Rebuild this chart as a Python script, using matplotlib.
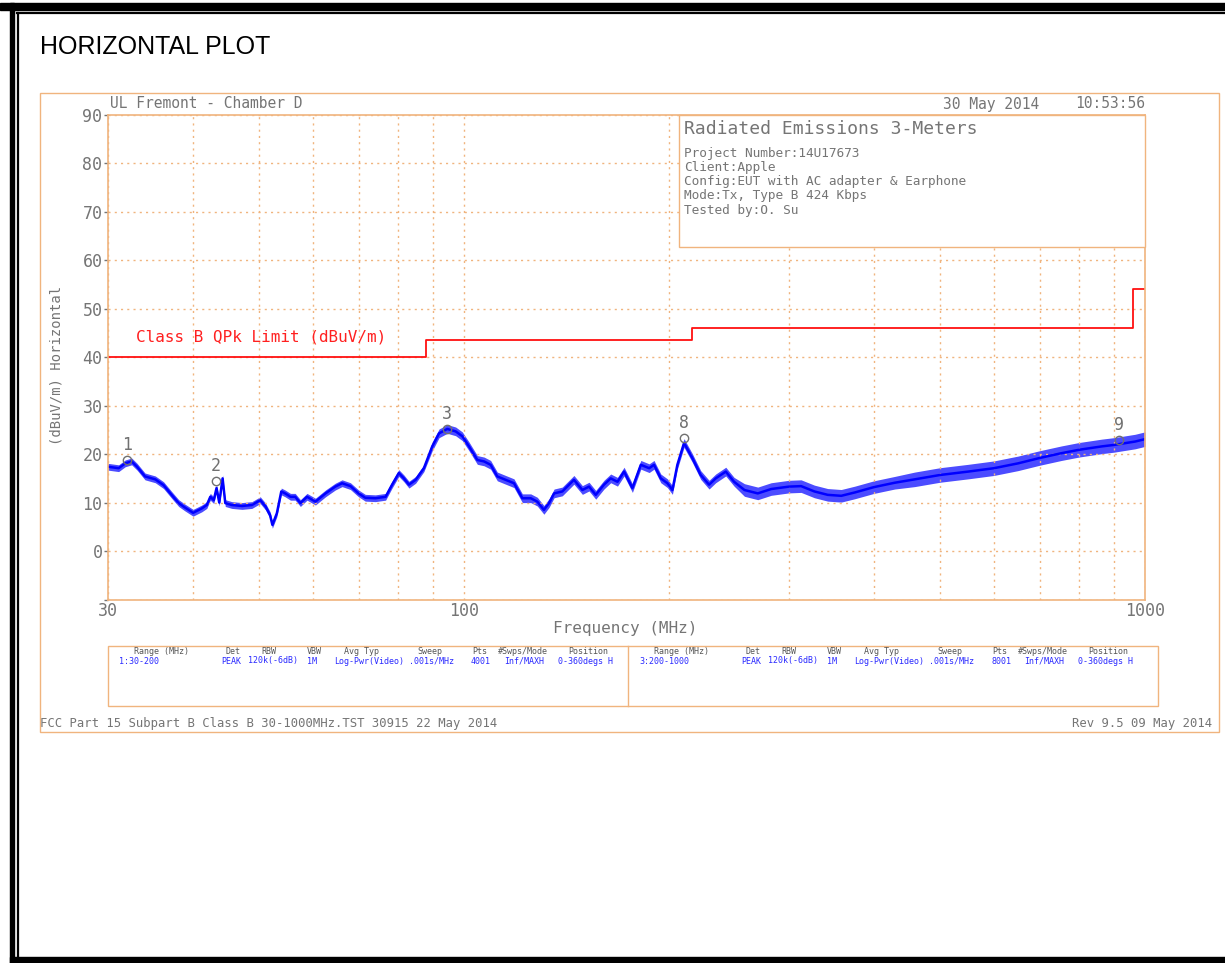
import matplotlib
matplotlib.use('Agg')
import matplotlib.pyplot as plt
from matplotlib.patches import Rectangle
from matplotlib.ticker import FixedLocator, NullFormatter

# measured trace (MHz, dBuV/m)
freq_mhz = [30, 31.1, 31.8, 32.5, 33.1, 34.0, 35.2, 36.2, 37.2, 38.1,
            38.9, 40.0, 41.2, 41.9, 42.4, 42.9, 43.3, 43.7, 44.2, 44.6,
            45.6, 47.2, 48.8, 50.2, 51.1, 51.9, 52.3, 53.1, 53.9, 54.6,
            55.6, 56.5, 57.5, 58.8, 60.5, 62.6, 64.7, 66.2, 68.1, 70.0,
            71.6, 74.1, 76.7, 78.4, 80.2, 81.6, 83.0, 84.9, 87.3,
            89.8, 91.9, 94.5, 97.2, 99.4, 101.7, 104.6, 107.0, 109.4, 111.9,
            115.1, 118.4, 121.8, 125.3, 128.1, 131.0, 133.3, 135.6, 139.4, 145.0,
            149.2, 152.6, 156.1, 160.5, 164.2, 168.0, 171.8, 176.7, 181.8, 187.0,
            190.1, 194.5, 198.9, 202.3, 205.7, 210.4, 216.4, 222.6, 229.0, 234.2,
            242.3, 249.2,
            258.1, 270, 282.5, 300, 312.6, 327, 342, 358, 375, 400,
            429, 459, 500, 550, 600, 651, 700, 754, 800, 864,
            900, 967, 1000]
level_db = [17.4, 17.1, 18.1, 18.5, 17.4, 15.4, 14.8, 13.6, 11.6, 9.9,
            9.0, 7.9, 8.8, 9.5, 11.2, 10.5, 13.0, 10.0, 15.0, 9.9,
            9.5, 9.3, 9.5, 10.5, 9.2, 7.4, 5.4, 7.8, 12.3, 11.9,
            11.2, 11.2, 9.9, 11.2, 10.2, 11.9, 13.3, 14.0, 13.4, 11.9,
            11.0, 10.9, 11.2, 13.7, 16.1, 15.0, 13.7, 14.7, 17.1,
            21.6, 24.3, 25.2, 24.7, 23.7, 21.6, 18.8, 18.5, 17.8, 15.4,
            14.7, 14.0, 10.9, 10.9, 10.2, 8.5, 9.9, 11.9, 12.3, 14.7,
            12.6, 13.3, 11.6, 13.7, 15.0, 14.3, 16.4, 13.0, 17.8, 17.1,
            17.8, 15.0, 14.0, 12.6, 17.8, 22.3, 19.2, 15.7, 13.7, 15.0,
            16.4, 14.3,
            12.6, 11.9, 12.8, 13.3, 13.4, 12.3, 11.6, 11.4, 12.1, 13.2,
            14.1, 14.8, 15.7, 16.4, 17.1, 18.1, 19.2, 20.2, 20.9, 21.6,
            21.9, 22.6, 23.1]
# half height of the noise band around the trace
noise_db = [0.7] * 49 + [0.9] * 42 + [1.3] * 11 + [1.5] * 12

limit_freq = [30, 88, 216, 960, 1000]
limit_db = [40, 43.5, 46, 54, 54]

mark_freq = [32.0, 43.2, 94.3, 210.4, 915.8]
mark_db = [18.8, 14.5, 25.2, 23.3, 22.9]
mark_lbl = ['1', '2', '3', '8', '9']

hdr_cols = ['Range (MHz)', 'Det', 'RBW', 'VBW', 'Avg Typ', 'Sweep', 'Pts', '#Swps/Mode', 'Position']
row1 = ['1:30-200', 'PEAK', '120k(-6dB)', '1M', 'Log-Pwr(Video)', '.001s/MHz', '4001', 'Inf/MAXH', '0-360degs H']
row3 = ['3:200-1000', 'PEAK', '120k(-6dB)', '1M', 'Log-Pwr(Video)', '.001s/MHz', '8001', 'Inf/MAXH', '0-360degs H']

info_lines = ['Project Number:14U17673', 'Client:Apple',
              'Config:EUT with AC adapter & Earphone',
              'Mode:Tx, Type B 424 Kbps', 'Tested by:O. Su']

W, H = 1225, 963
orange = '#f0b47e'
gray = '#757575'
mono = 'DejaVu Sans Mono'

fig = plt.figure(figsize=(W / 100, H / 100), dpi=100)

# background canvas in pixel coordinates
bg = fig.add_axes([0, 0, 1, 1])
bg.set_xlim(0, W)
bg.set_ylim(H, 0)
bg.axis('off')

bg.add_patch(Rectangle((0, 3), W, 7, color='black'))
bg.plot([17, W], [13.5, 13.5], color='black', lw=1.6)
bg.add_patch(Rectangle((10, 3), 3.5, 960, color='black'))
bg.plot([17.5, 17.5], [13, 958], color='black', lw=1.6)
bg.add_patch(Rectangle((10, 957.5), W, 6, color='black'))

bg.text(40, 47, 'HORIZONTAL PLOT', fontsize=18, family='Liberation Sans', va='center')

bg.add_patch(Rectangle((40, 93), 1179, 639, fill=False, ec=orange, lw=1))
bg.add_patch(Rectangle((108, 646), 1050, 60, fill=False, ec=orange, lw=1))
bg.plot([628, 628], [646, 706], color=orange, lw=1)

bg.text(110, 104, 'UL Fremont - Chamber D', family=mono, fontsize=10.5, color=gray, va='center')
bg.text(943, 104, '30 May 2014', family=mono, fontsize=10.5, color=gray, va='center')
bg.text(1145, 104, '10:53:56', family=mono, fontsize=10.5, color=gray, va='center', ha='right')
bg.text(57, 365, '(dBuV/m) Horizontal', family=mono, fontsize=10, color=gray,
        rotation=90, va='center', ha='center')
bg.text(625, 629, 'Frequency (MHz)', family=mono, fontsize=11.5, color=gray, va='center', ha='center')
bg.text(40, 724, 'FCC Part 15 Subpart B Class B 30-1000MHz.TST 30915 22 May 2014',
        family=mono, fontsize=8.8, color=gray, va='center')
bg.text(1212, 724, 'Rev 9.5 09 May 2014', family=mono, fontsize=8.8, color=gray,
        va='center', ha='right')

# setup table
col_off = [26, 117, 153, 199, 236, 309, 364, 390, 460]
val_off = [11, 113, 140, 199, 226, 301, 363, 396, 450]
for left, row in [(108, row1), (628, row3)]:
    for off, s in zip(col_off, hdr_cols):
        bg.text(left + off, 652, s, family=mono, fontsize=6, color='#555555', va='center')
    for off, s in zip(val_off, row):
        bg.text(left + off, 661, s, family=mono, fontsize=6, color='#2a2aff', va='center')

# main plot
ax = fig.add_axes([108 / W, 1 - 599.5 / H, (1145 - 108) / W, (599.5 - 115) / H])
ax.set_xscale('log')
ax.set_xlim(30, 1000)
ax.set_ylim(-10, 90)
ax.set_xticks([30, 100, 1000])
ax.set_xticklabels(['30', '100', '1000'])
ax.xaxis.set_minor_locator(FixedLocator([40, 50, 60, 70, 80, 90, 200, 300, 400, 500, 600, 700, 800, 900]))
ax.xaxis.set_minor_formatter(NullFormatter())
ax.set_yticks(range(0, 100, 10))
ax.yaxis.set_minor_locator(FixedLocator([-10]))
ax.grid(which='both', color=orange, linestyle=(0, (1.5, 3)), lw=1)
for sp in ax.spines.values():
    sp.set_color(orange)
    sp.set_linewidth(1.2)
ax.tick_params(axis='x', which='both', length=0, pad=2, labelsize=12, labelcolor=gray)
ax.tick_params(axis='y', which='both', length=3, width=1, color=gray, pad=1, labelsize=12, labelcolor=gray)
for lab in ax.get_xticklabels() + ax.get_yticklabels():
    lab.set_family(mono)

ax.step(limit_freq, limit_db, where='post', color='#ff1010', lw=1.3)
ax.text(33.0, 44.2, 'Class B QPk Limit (dBuV/m)', family=mono, fontsize=11.5,
        color='#ff2020', va='center')

low = [v - n for v, n in zip(level_db, noise_db)]
high = [v + n for v, n in zip(level_db, noise_db)]
ax.fill_between(freq_mhz, low, high, color='#0000ff', alpha=0.7, lw=0)
ax.plot(freq_mhz, level_db, color='#0000ff', lw=1.8)

ax.plot(mark_freq, mark_db, 'o', mfc='none', mec='#707070', ms=6, mew=1)
for f, v, s in zip(mark_freq, mark_db, mark_lbl):
    ax.annotate(s, (f, v), xytext=(0, 11), textcoords='offset points', ha='center',
                va='center', family=mono, fontsize=12, color='#707070')

# info box
ax.add_patch(Rectangle((679, 115), 466, 132, transform=bg.transData, fc='white',
                       ec=orange, lw=1, clip_on=False, zorder=5))
ax.text(684, 129, 'Radiated Emissions 3-Meters', transform=bg.transData, family=mono,
        fontsize=13, color=gray, va='center', zorder=6)
for i, s in enumerate(info_lines):
    ax.text(684, 153 + i * 14.3, s, transform=bg.transData, family=mono, fontsize=9.2,
            color=gray, va='center', zorder=6)

fig.savefig('out.png', dpi=100)
